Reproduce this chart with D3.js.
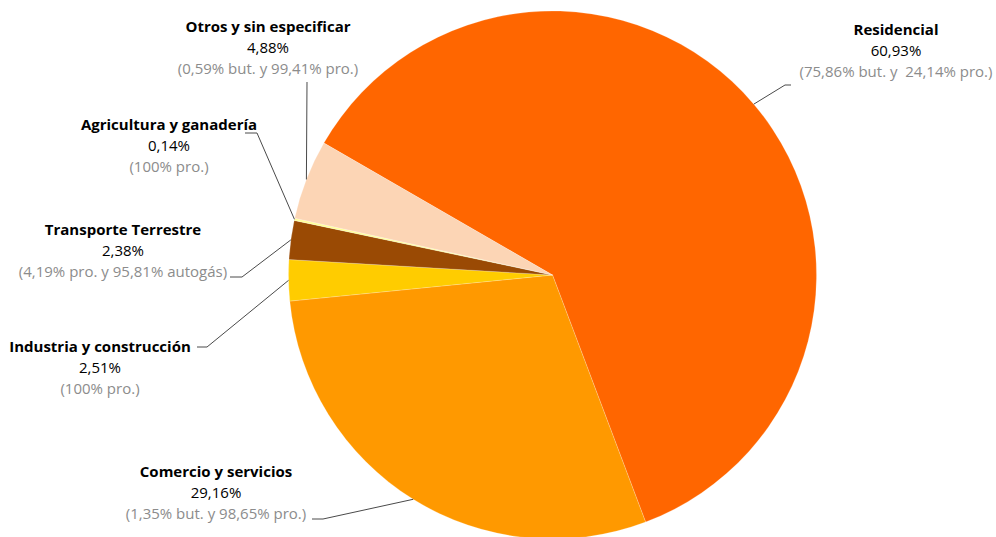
<!DOCTYPE html>
<html>
<head>
<meta charset="utf-8">
<script src="https://cdn.jsdelivr.net/npm/d3@7"></script>
<style>
  html, body { margin: 0; padding: 0; background: #fff; }
  svg { display: block; }
  text { font-family: "Open Sans", "Noto Sans", sans-serif; font-size: 15px; white-space: pre; }
</style>
</head>
<body>
<svg id="chart" width="996" height="537"></svg>
<script>
// Sectors of consumption, in drawing order (clockwise)
const categories = [
  "Residencial",
  "Comercio y servicios",
  "Industria y construcción",
  "Transporte Terrestre",
  "Agricultura y ganadería",
  "Otros y sin especificar"
];
const shares = [60.93, 29.16, 2.51, 2.38, 0.14, 4.88];
const valueLabels = ["60,93%", "29,16%", "2,51%", "2,38%", "0,14%", "4,88%"];
const detailLabels = [
  "(75,86% but. y  24,14% pro.)",
  "(1,35% but. y 98,65% pro.)",
  "(100% pro.)",
  "(4,19% pro. y 95,81% autogás)",
  "(100% pro.)",
  "(0,59% but. y 99,41% pro.)"
];
const colors = ["#FF6600", "#FF9900", "#FFCC00", "#9A4A04", "#FFFF99", "#FCD5B5"];

// Label placement: text centre x, first baseline y, leader elbow and leader end
const labelLayout = [
  { x: 896, y: 35, elbow: [785, 85], end: [791, 85] },
  { x: 216, y: 477, elbow: [323, 519], end: [312, 519] },
  { x: 100, y: 352, elbow: [207, 347], end: [197, 347] },
  { x: 123, y: 235, elbow: [242, 277], end: [230, 277] },
  { x: 169, y: 130, elbow: [257, 133], end: [245, 133] },
  { x: 268, y: 32, elbow: [307, 82], end: [307, 82] }
];

const svg = d3.select("#chart");
const cx = 552.5, cy = 275, r = 264;
const g = svg.append("g").attr("transform", `translate(${cx},${cy})`);

const start = -60 * Math.PI / 180;
const data = categories.map((c, i) => ({ name: c, value: shares[i], i }));
const pie = d3.pie()
  .value(d => d.value)
  .sort(null)
  .startAngle(start)
  .endAngle(start + 2 * Math.PI);
const arcs = pie(data);
const arc = d3.arc().innerRadius(0).outerRadius(r);

g.selectAll("path.slice")
  .data(arcs)
  .join("path")
  .attr("class", "slice")
  .attr("d", arc)
  .attr("fill", d => colors[d.data.i])
  .attr("stroke", "#fff")
  .attr("stroke-opacity", 0.5)
  .attr("stroke-width", 0.4);

// Leader lines from each slice edge to its label
const edge = d3.arc().innerRadius(r).outerRadius(r);
arcs.forEach(d => {
  const L = labelLayout[d.data.i];
  const [px, py] = edge.centroid(d);
  svg.append("polyline")
    .attr("points", [[cx + px, cy + py], L.elbow, L.end].map(p => p.join(",")).join(" "))
    .attr("fill", "none")
    .attr("stroke", "#4a4a4a")
    .attr("stroke-width", 1);
});

// Labels: bold name, share, detail in grey
const lineH = 21;
arcs.forEach(d => {
  const i = d.data.i;
  const L = labelLayout[i];
  const t = svg.append("text").attr("text-anchor", "middle");
  t.append("tspan").attr("x", L.x).attr("y", L.y)
    .attr("font-weight", "bold").attr("fill", "#000").text(categories[i]);
  t.append("tspan").attr("x", L.x).attr("y", L.y + lineH)
    .attr("fill", "#000").text(valueLabels[i]);
  t.append("tspan").attr("x", L.x).attr("y", L.y + 2 * lineH)
    .attr("fill", "#8c8c8c").text(detailLabels[i]);
});
</script>
</body>
</html>
